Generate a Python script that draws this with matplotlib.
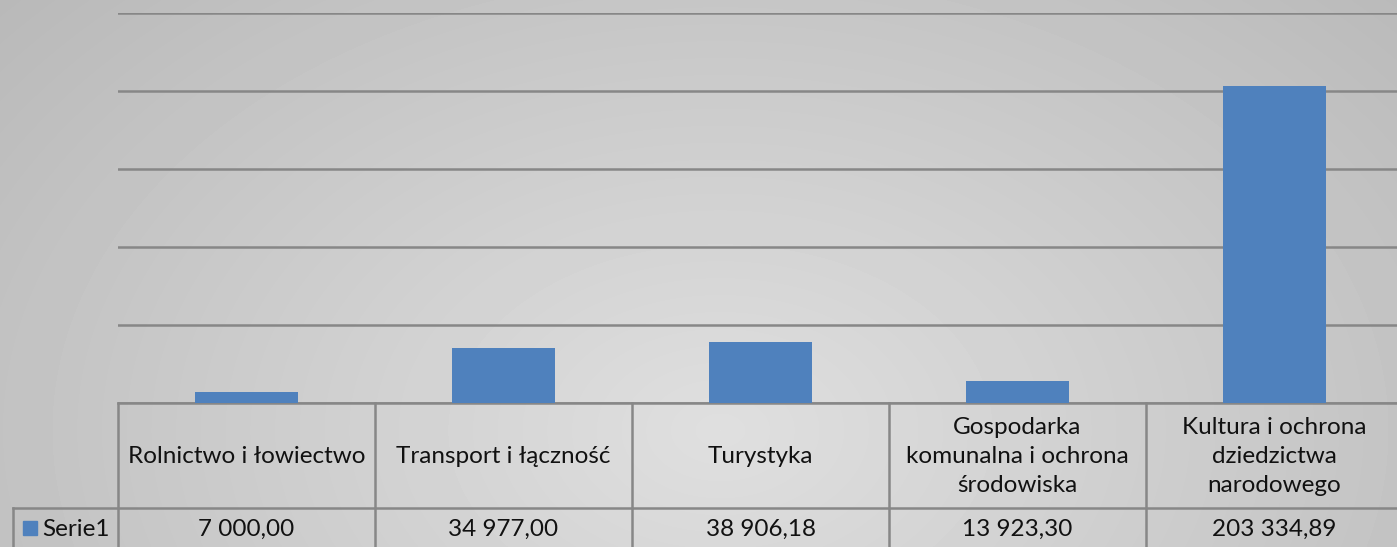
import numpy as np
import matplotlib.pyplot as plt
from matplotlib.patches import Rectangle

# Data
categories = [
    'Rolnictwo i łowiectwo',
    'Transport i łączność',
    'Turystyka',
    'Gospodarka\nkomunalna i ochrona\nśrodowiska',
    'Kultura i ochrona\ndziedzictwa\nnarodowego',
]
values = [7000.00, 34977.00, 38906.18, 13923.30, 203334.89]
value_labels = ['7 000,00', '34 977,00', '38 906,18', '13 923,30', '203 334,89']
series_name = 'Serie1'

W, H = 1397, 547
bar_color = '#4f81bd'
line_color = '#878787'
plt.rcParams['font.family'] = ['Lato', 'DejaVu Sans']
fs = 17.5

fig = plt.figure(figsize=(W / 100, H / 100), dpi=100)

# background radial gradient
bg = fig.add_axes([0, 0, 1, 1], zorder=0)
yy, xx = np.mgrid[0:H, 0:W]
r = np.sqrt(((xx - 720) / 950.0) ** 2 + ((yy - 430) / 650.0) ** 2)
shade = np.clip(0.875 - 0.15 * r, 0.71, 0.88)
bg.imshow(shade, cmap='gray', vmin=0, vmax=1, aspect='auto', extent=[0, W, H, 0])
bg.set_xlim(0, W)
bg.set_ylim(H, 0)
bg.axis('off')

# plot area in pixels
left, right = 118, 118 + 5 * 257
top, base = 13, 403
ax = fig.add_axes([left / W, (H - base) / H, (right - left) / W, (base - top) / H], zorder=1)
ax.patch.set_alpha(0)
x = np.arange(len(categories))
ax.bar(x, values, width=0.4, color=bar_color, zorder=3)
ax.set_xlim(-0.5, len(categories) - 0.5)
ax.set_ylim(0, 250000)
ax.set_yticks(np.arange(0, 250001, 50000))
ax.yaxis.grid(True, color=line_color, linewidth=1.8)
ax.set_axisbelow(True)
ax.tick_params(left=False, bottom=False, labelleft=False, labelbottom=False)
for s in ax.spines.values():
    s.set_visible(False)

# data table drawn in pixel coordinates on the background axes
row_split = 508
col_edges = [left + i * 257 for i in range(len(categories) + 1)]
kw = dict(color=line_color, linewidth=1.8, zorder=2)
bg.plot([left, W], [base, base], **kw)
bg.plot([13, W], [row_split, row_split], **kw)
bg.plot([13, 13], [row_split, H], **kw)
for xe in col_edges[:-1]:
    bg.plot([xe, xe], [base, H], **kw)

for i, (cat, val) in enumerate(zip(categories, value_labels)):
    cx = (col_edges[i] + col_edges[i + 1]) / 2
    bg.text(cx, (base + row_split) / 2 + 1, cat, ha='center', va='center',
            fontsize=fs, linespacing=1.5, color='#111111')
    bg.text(cx, 529, val, ha='center', va='center', fontsize=fs, color='#111111')

bg.add_patch(Rectangle((23, 521), 14, 14, color=bar_color, zorder=3))
bg.text(42, 529, series_name, ha='left', va='center', fontsize=fs, color='#111111')

fig.savefig('out.png', dpi=100)
